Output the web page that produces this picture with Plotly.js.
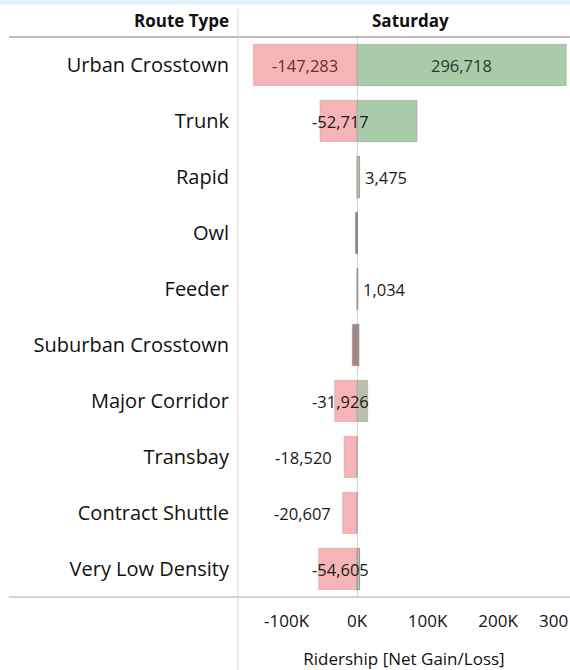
<!DOCTYPE html>
<html>
<head>
<meta charset="utf-8">
<script src="https://cdn.plot.ly/plotly-3.0.1.min.js"></script>
<style>html,body{margin:0;padding:0;background:#fff;}#chart{width:570px;height:670px;}</style>
</head>
<body>
<div id="chart"></div>
<script>
// ---- data ----
const routeTypes = ["Urban Crosstown","Trunk","Rapid","Owl","Feeder","Suburban Crosstown","Major Corridor","Transbay","Contract Shuttle","Very Low Density"];
const lossValues = [-147283, -52717, 0, -2500, 0, -7000, -31926, -18520, -20607, -54605];
const gainValues = [296718, 85000, 3475, 600, 1034, 2500, 15000, 0, 0, 3500];
const labelValues = ["-147,283 | 296,718", "-52,717", "3,475", "", "1,034", "", "-31,926", "-18,520", "-20,607", "-54,605"];
const xTickVals = [-100000, 0, 100000, 200000, 300000];
const xTickText = ["-100K", "0K", "100K", "200K", "300"];

// ---- styles ----
const FONT = "Open Sans, Noto Sans, sans-serif";
const PINK = "#f5b5b7", GREEN = "#a9cba9";
const special = {"Owl": "#857a7a", "Suburban Crosstown": "#a28789"};
const lossColors = routeTypes.map(r => special[r] || PINK);
const gainColors = routeTypes.map((r, i) => special[r] || (i === 6 || i === 9 ? "#b9bfa8" : GREEN));
const thinGainLine = routeTypes.map((r, i) => gainValues[i] > 0 && gainValues[i] < 5000 ? "#8c8c8c" : "rgba(140,150,140,0.5)");

const traces = [
  {type: "bar", orientation: "h", y: routeTypes, x: lossValues, name: "Loss",
   marker: {color: lossColors, line: {color: "rgba(200,140,140,0.6)", width: 0.6}}, hoverinfo: "x+y"},
  {type: "bar", orientation: "h", y: routeTypes, x: gainValues, name: "Gain",
   marker: {color: gainColors, line: {color: thinGainLine, width: 0.8}}, hoverinfo: "x+y"}
];

// labels placed from the data values
const LBL = 16.5;
const annotations = [];
routeTypes.forEach((r, i) => {
  const lab = labelValues[i];
  if (!lab) return;
  const base = {y: r, yref: "y", xref: "x", showarrow: false, font: {family: FONT, size: LBL, color: "#1a1a1a"}};
  if (i === 0) {
    const parts = lab.split(" | ");
    annotations.push(Object.assign({}, base, {x: lossValues[i] / 2, text: parts[0], xanchor: "center", font: {family: FONT, size: LBL, color: "#6e2b2b"}}));
    annotations.push(Object.assign({}, base, {x: gainValues[i] / 2, text: parts[1], xanchor: "center", font: {family: FONT, size: LBL, color: "#233d2b"}}));
  } else if (lossValues[i] === 0) {
    annotations.push(Object.assign({}, base, {x: gainValues[i], text: lab, xanchor: "left", xshift: 3}));
  } else if (r === "Transbay" || r === "Contract Shuttle") {
    annotations.push(Object.assign({}, base, {x: lossValues[i], text: lab, xanchor: "right", xshift: -10}));
  } else {
    annotations.push(Object.assign({}, base, {x: 0, text: lab, xanchor: "center", xshift: -17}));
  }
});
// last (clipped) tick label, kept inside the page
const lastTick = xTickVals[xTickVals.length - 1];
annotations.push({xref: "x", yref: "paper", x: lastTick, y: 0, xanchor: "right", yanchor: "middle", xshift: 1, yshift: -23,
  text: xTickText[xTickText.length - 1], showarrow: false, font: {family: FONT, size: 17, color: "#111"}});
// headers
annotations.push({xref: "paper", yref: "paper", x: 0, y: 1, xanchor: "right", yanchor: "bottom", xshift: -7, yshift: 3, text: "<b>Route Type</b>", showarrow: false, font: {family: FONT, size: 17, color: "#111"}});
annotations.push({xref: "paper", yref: "paper", x: 0.52, y: 1, xanchor: "center", yanchor: "bottom", yshift: 3, text: "<b>Saturday</b>", showarrow: false, font: {family: FONT, size: 17, color: "#111"}});

const shapes = [
  {type: "rect", xref: "paper", yref: "paper", x0: -1, x1: 1.1, y0: 1.058, y1: 1.08, fillcolor: "#dff2f7", line: {width: 0}},
  {type: "line", xref: "paper", yref: "paper", x0: -0.69, x1: 1, y0: 1, y1: 1, line: {color: "#777", width: 1}},
  {type: "line", xref: "paper", yref: "paper", x0: -0.69, x1: 1, y0: 0, y1: 0, line: {color: "#aaa", width: 1}},
  {type: "line", xref: "paper", yref: "paper", x0: 0, x1: 0, y0: -0.13, y1: 1.05, line: {color: "#d6d6d6", width: 1}}
];

const layout = {
  width: 570, height: 670,
  margin: {l: 238, r: 0, t: 37, b: 73, pad: 0},
  paper_bgcolor: "#fff", plot_bgcolor: "#fff",
  barmode: "relative", bargap: 0.26,
  showlegend: false,
  font: {family: FONT, color: "#111"},
  xaxis: {range: [-169000, 302000], tickvals: xTickVals.slice(0, -1), ticktext: xTickText.slice(0, -1), showgrid: false,
          zeroline: true, zerolinecolor: "#d8d8d8", zerolinewidth: 1, showline: false, ticks: "",
          ticklabelstandoff: 12, tickfont: {family: FONT, size: 17, color: "#111"},
          title: {text: "Ridership [Net Gain/Loss]", font: {family: FONT, size: 17, color: "#111"}, standoff: 23},
          fixedrange: true},
  yaxis: {type: "category", autorange: "reversed", showgrid: false, zeroline: false, showline: false, ticks: "",
          ticklabelstandoff: 8, tickfont: {family: FONT, size: 20, color: "#111"}, fixedrange: true},
  annotations: annotations,
  shapes: shapes
};

Plotly.newPlot("chart", traces, layout, {displayModeBar: false, staticPlot: true});
</script>
</body>
</html>
